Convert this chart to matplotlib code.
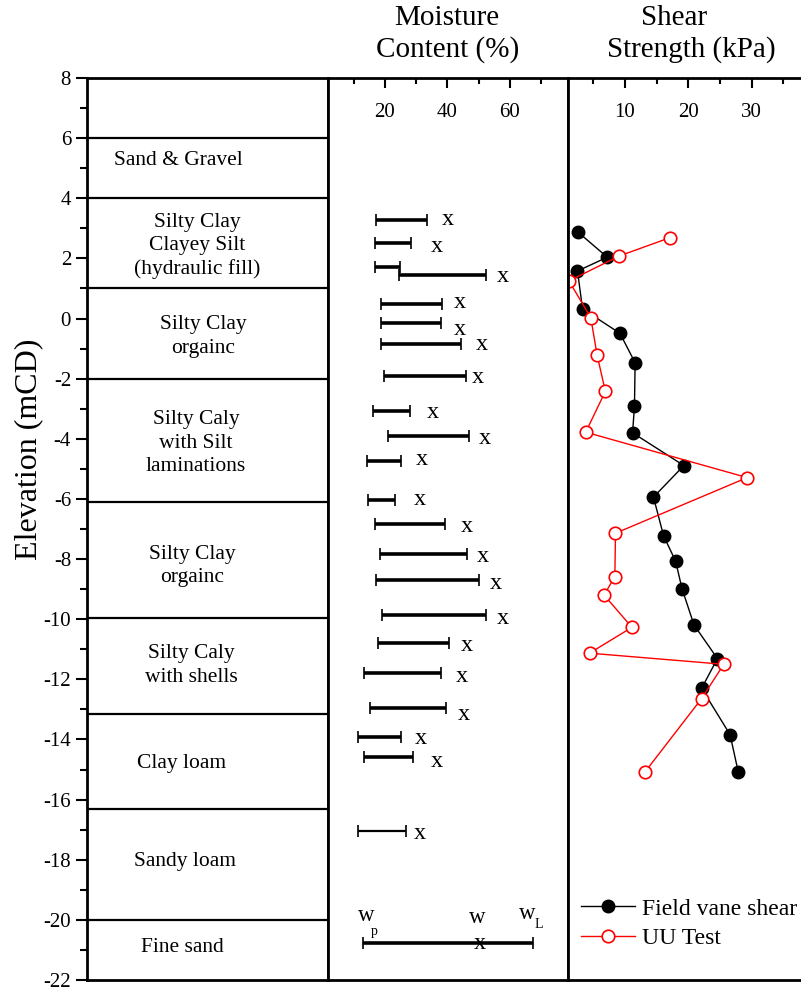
import numpy as np
import matplotlib.pyplot as plt
from matplotlib.ticker import MultipleLocator

plt.rcParams['font.family'] = ['Liberation Serif', 'DejaVu Serif']
plt.rcParams['axes.unicode_minus'] = False

# soil column
layer_bounds = [6, 4, 1, -2, -6.1, -9.95, -13.15, -16.3, -20]
soil_labels = ['Sand & Gravel',
               'Silty Clay\nClayey Silt\n(hydraulic fill)',
               'Silty Clay\norgainc',
               'Silty Caly\nwith Silt\nlaminations',
               'Silty Clay\norgainc',
               'Silty Caly\nwith shells',
               'Clay loam',
               'Sandy loam',
               'Fine sand']
soil_label_elev = [5.27, 2.41, -0.6, -4.14, -8.23, -11.54, -14.81, -18.07, -20.93]
soil_label_x = [0.378, 0.456, 0.481, 0.452, 0.436, 0.432, 0.394, 0.407, 0.394]

# moisture content: plastic limit, liquid limit, natural water content
bar_elev = [3.28, 2.5, 1.7, 1.45, 0.48, -0.14, -0.86, -1.9, -3.06, -3.9, -4.74,
            -6.03, -6.84, -7.83, -8.69, -9.86, -10.8, -11.8, -12.96, -13.93, -14.59, -17.04]
wp = [17.0, 16.8, 16.8, 24.6, 18.9, 18.7, 18.6, 19.7, 16.3, 21.1, 14.2,
      14.7, 16.8, 18.3, 17.0, 19.0, 17.7, 13.2, 15.3, 11.4, 13.4, 11.3]
wl = [33.5, 28.3, 24.8, 52.5, 38.3, 38.1, 44.2, 45.8, 28.1, 47.0, 25.1,
      23.3, 39.3, 46.4, 50.2, 52.3, 40.5, 38.1, 39.6, 25.0, 28.9, 26.6]
w = [40.3, 36.7, np.nan, 57.9, 44.0, 44.0, 50.9, 49.9, 35.5, 52.0, 31.9,
     31.2, 46.1, 51.4, 55.4, 57.9, 46.1, 44.5, 45.4, 31.5, 36.5, 31.3]
w_elev = [3.31, 2.41, np.nan, 1.39, 0.53, -0.36, -0.86, -1.97, -3.13, -3.98, -4.70,
          -6.03, -6.92, -7.90, -8.80, -9.97, -10.86, -11.89, -13.16, -13.96, -14.74, -17.12]

# key bar
key_elev = -20.78
key_wp, key_w, key_wl = 13.1, 50.4, 67.5

# shear strength (kPa)
vane_su = [2.6, 7.2, 2.5, 3.3, 9.2, 11.6, 11.5, 11.2, 19.3, 14.5,
           16.1, 18.0, 19.0, 20.9, 24.6, 22.1, 26.6, 27.9]
vane_elev = [2.87, 2.04, 1.58, 0.32, -0.49, -1.47, -2.9, -3.8, -4.89, -5.94,
             -7.23, -8.07, -8.98, -10.19, -11.31, -12.3, -13.84, -15.09]
uu_su = [17.1, 9.1, 1.15, 4.6, 5.6, 6.9, 3.8, 29.3, 8.5, 8.4, 6.7, 11.1, 4.4, 25.6, 22.1, 13.2]
uu_elev = [2.69, 2.08, 1.25, 0.03, -1.22, -2.42, -3.78, -5.29, -7.14, -8.58, -9.2,
           -10.27, -11.13, -11.5, -12.64, -15.07]

W, H = 801, 989
fig = plt.figure(figsize=(W / 100, H / 100), dpi=100)


def rect(x0, x1, y0=78, y1=980):
    return [x0 / W, 1 - y1 / H, (x1 - x0) / W, (y1 - y0) / H]


ax0 = fig.add_axes(rect(87, 328))
ax1 = fig.add_axes(rect(328, 568), sharey=ax0)
ax2 = fig.add_axes(rect(568, 801), sharey=ax0)

for ax in (ax0, ax1, ax2):
    for sp in ax.spines.values():
        sp.set_linewidth(2)
ax2.spines['right'].set_visible(False)

# soil column panel
ax0.set_ylim(-22, 8)
ax0.set_xlim(0, 1)
ax0.yaxis.set_major_locator(MultipleLocator(2))
ax0.yaxis.set_minor_locator(MultipleLocator(1))
ax0.tick_params(axis='y', which='major', direction='out', length=8, width=1.5, labelsize=15)
ax0.tick_params(axis='y', which='minor', direction='out', length=5, width=1.5)
ax0.tick_params(axis='x', which='both', bottom=False, labelbottom=False)
for b in layer_bounds:
    ax0.axhline(b, color='k', lw=1.6)
for lab, e, xf in zip(soil_labels, soil_label_elev, soil_label_x):
    ax0.text(xf, e, lab, ha='center', va='center', fontsize=15.5, linespacing=1.3)
fig.text(0.036, 1 - 449 / H, 'Elevation (mCD)', rotation=90, ha='center', va='center', fontsize=23)

# moisture panel
ax1.set_xlim(1.8, 78.6)
ax1.xaxis.set_major_locator(MultipleLocator(20))
ax1.xaxis.set_minor_locator(MultipleLocator(10))
ax1.tick_params(axis='y', which='both', left=False, labelleft=False)
ax1.tick_params(axis='x', which='both', direction='in', top=True, bottom=False,
                labeltop=True, labelbottom=False, width=1.5, pad=-32, labelsize=15)
ax1.tick_params(axis='x', which='major', length=7)
ax1.tick_params(axis='x', which='minor', length=4)

wp_a, wl_a = np.array(wp), np.array(wl)
mid = (wp_a + wl_a) / 2
half = (wl_a - wp_a) / 2
ax1.errorbar(mid[:-1], bar_elev[:-1], xerr=half[:-1], fmt='none', ecolor='k',
             elinewidth=2.6, capsize=4, capthick=1.2)
ax1.errorbar(mid[-1:], bar_elev[-1:], xerr=half[-1:], fmt='none', ecolor='k',
             elinewidth=1.6, capsize=4, capthick=1.2)
for xv, yv in zip(w, w_elev):
    if not np.isnan(xv):
        ax1.text(xv, yv, 'x', ha='center', va='center', fontsize=17.5)

ax1.errorbar([(key_wp + key_wl) / 2], [key_elev], xerr=[(key_wl - key_wp) / 2], fmt='none',
             ecolor='k', elinewidth=2.6, capsize=4, capthick=1.2)
ax1.text(key_w, key_elev, 'x', ha='center', va='center', fontsize=17.5)
ax1.text(key_wp + 1.0, -19.87, 'w', ha='center', va='center', fontsize=16.5)
ax1.text(key_wp + 3.6, -20.4, 'p', ha='center', va='center', fontsize=10)
ax1.text(key_w - 1.0, -19.93, 'w', ha='center', va='center', fontsize=16.5)
ax1.text(key_wl - 2.0, -19.8, 'w', ha='center', va='center', fontsize=16.5)
ax1.text(key_wl + 1.8, -20.15, 'L', ha='center', va='center', fontsize=10)

# shear panel
ax2.set_xlim(1.0, 37.8)
ax2.xaxis.set_major_locator(MultipleLocator(10))
ax2.xaxis.set_minor_locator(MultipleLocator(5))
ax2.tick_params(axis='y', which='both', left=False, labelleft=False)
ax2.tick_params(axis='x', which='both', direction='in', top=True, bottom=False,
                labeltop=True, labelbottom=False, width=1.5, pad=-32, labelsize=15)
ax2.tick_params(axis='x', which='major', length=7)
ax2.tick_params(axis='x', which='minor', length=4)

ax2.plot(vane_su, vane_elev, '-o', color='k', lw=1, ms=9, label='Field vane shear')
ax2.plot(uu_su, uu_elev, '-o', color='red', mfc='white', mec='red', lw=1, ms=9,
         mew=1.2, label='UU Test')
ax2.legend(loc='lower left', bbox_to_anchor=(0.055, 0.034), frameon=False, fontsize=17,
           handlelength=2.3, borderpad=0, borderaxespad=0, handletextpad=0.3,
           labelspacing=0.35)

# headers
fig.text(447 / W, 1 - 18 / H, 'Moisture', ha='center', va='center', fontsize=21)
fig.text(448 / W, 1 - 50 / H, 'Content (%)', ha='center', va='center', fontsize=21)
fig.text(674 / W, 1 - 18 / H, 'Shear', ha='center', va='center', fontsize=21)
fig.text(691 / W, 1 - 50 / H, 'Strength (kPa)', ha='center', va='center', fontsize=21)

fig.savefig('out.png', dpi=100)
